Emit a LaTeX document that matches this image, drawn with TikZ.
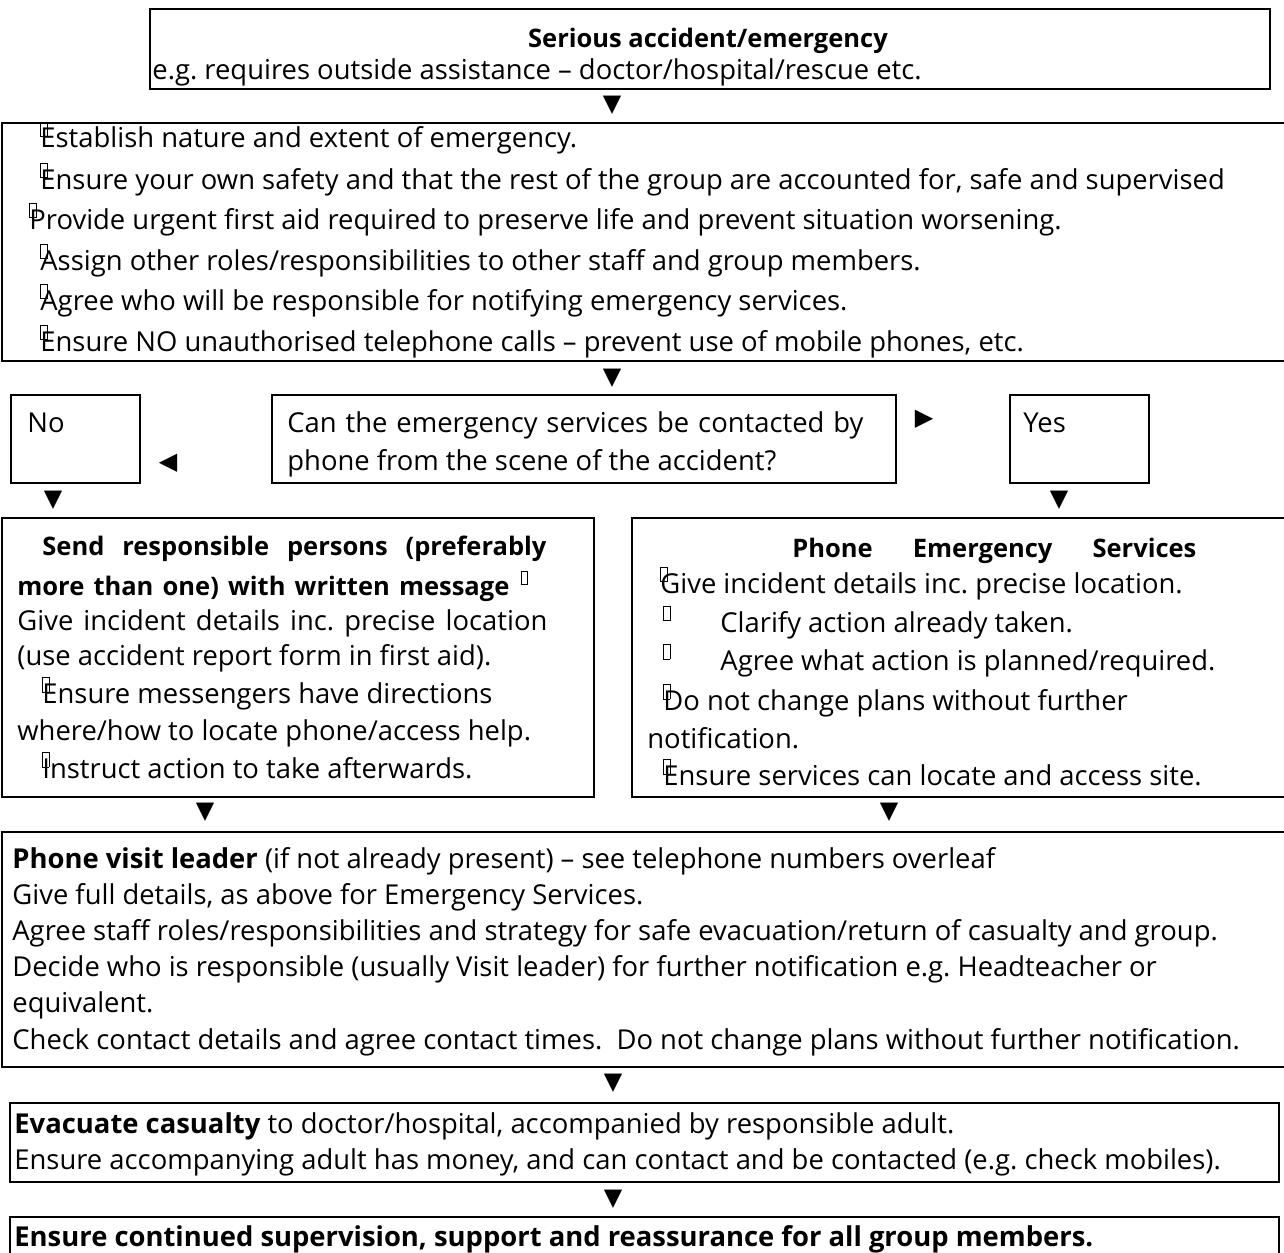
\documentclass[tikz,border=0pt]{standalone}
\usepackage{fontspec}
\setmainfont{Open Sans}
\newfontfamily\symfont{DejaVu Sans}
\frenchspacing

% missing bullet glyph of the original, drawn over the first letter
\newcommand\tofu{\rlap{\raisebox{.42em}{\setlength\fboxsep{0pt}\setlength\fboxrule{.4pt}\fbox{\rule{0pt}{.5em}\hspace{.2em}}}}}
\newcommand\jline[2]{\makebox[#1][s]{#2}}

\begin{document}
\begin{tikzpicture}[x=0.5pt,y=-0.5pt,
	frame/.style={draw,line width=1.4pt},
	ln/.style={anchor=base west,inner sep=0pt,font=\fontsize{13.7}{16}\selectfont},
	hd/.style={ln,font=\fontsize{12.75}{15}\selectfont\bfseries},
	tri/.style={inner sep=0pt,font=\symfont\fontsize{12}{12}\selectfont}]
	
	\useasboundingbox (0,0) rectangle (1284,1252);
	
	% serious accident
	\draw[frame] (150,9) rectangle (1270,89);
	\node[hd,anchor=base] (ser) at (708,48) {Serious accident/emergency};
	\node[ln] (ser2) at (152,80) {e.g. requires outside assistance – doctor/hospital/rescue etc.};
	\node[tri] (d1) at (612,105) {▼};
	
	% first actions
	\draw[frame] (2,123) rectangle (1290,361);
	\node[ln] (est) at (40,148) {\tofu Establish nature and extent of emergency.};
	\node[ln] (safe) at (40,189) {\tofu Ensure your own safety and that the rest of the group are accounted for, safe and supervised};
	\node[ln] (aid) at (29,229) {\tofu Provide urgent first aid required to preserve life and prevent situation worsening.};
	\node[ln] (roles) at (40,270) {\tofu Assign other roles/responsibilities to other staff and group members.};
	\node[ln] (who) at (40,310) {\tofu Agree who will be responsible for notifying emergency services.};
	\node[ln] (calls) at (40,351) {\tofu Ensure NO unauthorised telephone calls – prevent use of mobile phones, etc.};
	\node[tri] (d2) at (612,378) {▼};
	
	% question
	\draw[frame] (11,395) rectangle (140,483);
	\node[ln] (no) at (27,432) {No};
	\node[tri] (lno) at (168,463) {◀};
	\draw[frame] (272,395) rectangle (896,483);
	\node[ln] (q1) at (287,432) {\jline{288pt}{Can the emergency services be contacted by}};
	\node[ln] (q2) at (287,470) {phone from the scene of the accident?};
	\node[tri] (ryes) at (924,419) {▶};
	\draw[frame] (1010,395) rectangle (1149,483);
	\node[ln] (yes) at (1023,432) {Yes};
	\node[tri] (dno) at (53,500) {▼};
	\node[tri] (dyes) at (1059,500) {▼};
	
	% no phone
	\draw[frame] (2,518) rectangle (594,797);
	\node[hd] (send) at (42,555) {\jline{252pt}{Send responsible persons (preferably}};
	\node[hd] (send2) at (17,595) {\jline{246pt}{more than one) with written message}\hspace{6pt}\tofu};
	\node[ln] (msg1) at (17,630) {\jline{265pt}{Give incident details inc. precise location}};
	\node[ln] (msg2) at (17,665) {(use accident report form in first aid).};
	\node[ln] (msg3) at (42,703) {\tofu Ensure messengers have directions};
	\node[ln] (msg4) at (17,740) {where/how to locate phone/access help.};
	\node[ln] (msg5) at (42,778) {\tofu Instruct action to take afterwards.};
	
	% phone
	\draw[frame] (632,518) rectangle (1290,797);
	\node[hd] (ph) at (792,557) {\jline{202pt}{Phone Emergency Services}};
	\node[ln] (ph1) at (660,593) {\tofu Give incident details inc. precise location.};
	\node[ln] (ph2) at (663,632) {\tofu\hspace{28.5pt}Clarify action already taken.};
	\node[ln] (ph3) at (663,670) {\tofu\hspace{28.5pt}Agree what action is planned/required.};
	\node[ln] (ph4) at (663,710) {\tofu Do not change plans without further};
	\node[ln] (ph5) at (647,748) {notification.};
	\node[ln] (ph6) at (663,785) {\tofu Ensure services can locate and access site.};
	\node[tri] (dl) at (205,812) {▼};
	\node[tri] (dr) at (889,812) {▼};
	
	% visit leader
	\draw[frame] (2,832) rectangle (1290,1067);
	\node[ln] (vl1) at (12,868) {\textbf{Phone visit leader} (if not already present) – see telephone numbers overleaf};
	\node[ln] (vl2) at (12,904) {Give full details, as above for Emergency Services.};
	\node[ln] (vl3) at (12,940) {Agree staff roles/responsibilities and strategy for safe evacuation/return of casualty and group.};
	\node[ln] (vl4) at (12,976) {Decide who is responsible (usually Visit leader) for further notification e.g. Headteacher or};
	\node[ln] (vl5) at (12,1012) {equivalent.};
	\node[ln] (vl6) at (12,1049) {Check contact details and agree contact times.\ \ Do not change plans without further notification.};
	\node[tri] (d3) at (613,1083) {▼};
	
	% evacuate
	\draw[frame] (10,1103) rectangle (1279,1182);
	\node[ln] (ev1) at (14,1133) {\textbf{Evacuate casualty} to doctor/hospital, accompanied by responsible adult.};
	\node[ln] (ev2) at (14,1169) {Ensure accompanying adult has money, and can contact and be contacted (e.g. check mobiles).};
	\node[tri] (d4) at (613,1199) {▼};
	
	% supervision
	\draw[frame] (10,1217) rectangle (1279,1275);
	\node[hd,font=\fontsize{13.7}{16}\selectfont\bfseries] (sup1) at (14,1246) {Ensure continued supervision, support and reassurance for all group members.};
	
\end{tikzpicture}
\end{document}
